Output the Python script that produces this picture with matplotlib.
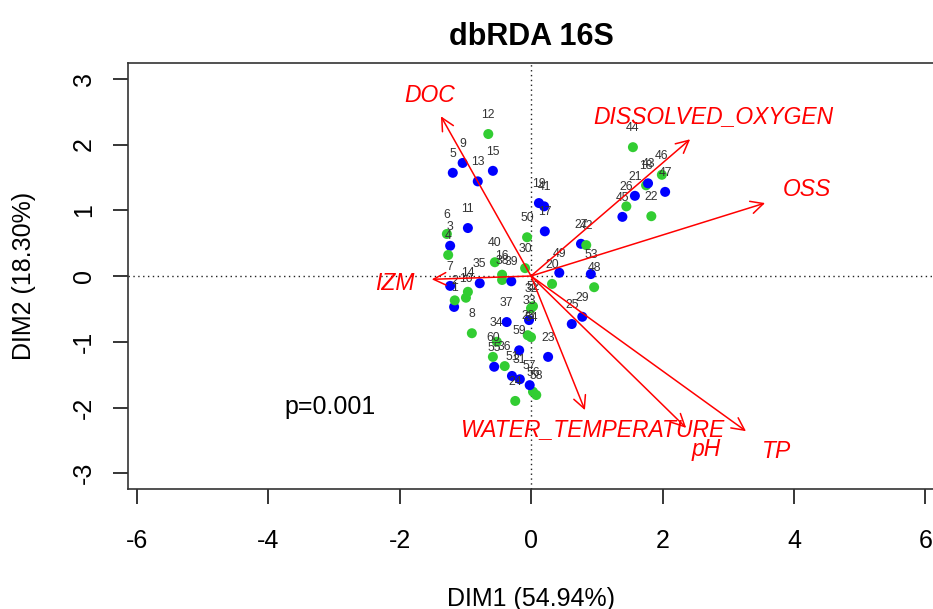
import numpy as np
import matplotlib
matplotlib.use("Agg")
import matplotlib.pyplot as plt

plt.rcParams['font.family'] = ['Liberation Sans', 'DejaVu Sans']
plt.rcParams['axes.unicode_minus'] = False

# site scores (DIM1, DIM2)
site_id = [str(i) for i in range(1, 61)]
site_group = ['A', 'B'] * 30
dim1 = [-1.17, -1.16, -1.23, -1.26, -1.19, -1.28, -1.23, -0.90, -1.04, -0.99,
        -0.96, -0.65, -0.81, -0.96, -0.58, -0.44, 0.21, 1.75, 0.12, 0.32,
        1.58, 1.83, 0.26, -0.24, 0.62, 1.45, 0.76, -0.05, 0.78, -0.09,
        -0.17, 0.00, -0.03, -0.52, -0.78, -0.40, -0.37, -0.44, -0.30, -0.55,
        0.20, 0.84, 1.78, 1.55, 1.39, 1.99, 2.04, 0.96, 0.43, -0.06,
        -0.29, 0.03, 0.91, 0.00, -0.56, 0.03, -0.02, 0.08, -0.18, -0.58]
dim2 = [-0.47, -0.37, 0.46, 0.32, 1.57, 0.64, -0.15, -0.87, 1.72, -0.33,
        0.73, 2.16, 1.44, -0.24, 1.60, 0.02, 0.68, 1.38, 1.11, -0.12,
        1.22, 0.91, -1.23, -1.90, -0.73, 1.06, 0.49, -0.90, -0.62, 0.12,
        -1.57, -0.49, -0.67, -1.00, -0.11, -1.37, -0.70, -0.06, -0.08, 0.21,
        1.06, 0.47, 1.41, 1.96, 0.90, 1.54, 1.28, -0.17, 0.05, 0.59,
        -1.52, -0.46, 0.03, -0.93, -1.38, -1.76, -1.66, -1.81, -1.13, -1.23]

# environmental vectors
env_names = ['DOC', 'DISSOLVED_OXYGEN', 'OSS', 'IZM', 'WATER_TEMPERATURE', 'pH', 'TP']
env_x = [-1.37, 2.42, 3.56, -1.51, 0.82, 2.36, 3.27]
env_y = [2.43, 2.08, 1.11, -0.05, -2.04, -2.31, -2.36]
env_lab_x = [-1.54, 2.77, 4.19, -2.07, 0.93, 2.66, 3.73]
env_lab_y = [2.74, 2.42, 1.32, -0.12, -2.33, -2.64, -2.67]

group_colors = {'A': '#0000FF', 'B': '#32CD32'}

fig = plt.figure(figsize=(9.33, 6.09), dpi=100)
ax = fig.add_axes([0.1372, 0.1970, 0.8639, 0.6995])

ax.axhline(0, color='#222222', lw=1, ls=(0, (1, 2.5)), zorder=1)
ax.axvline(0, color='#222222', lw=1, ls=(0, (1, 2.5)), zorder=1)

cols = [group_colors[g] for g in site_group]
ax.scatter(dim1, dim2, s=52, c=cols, edgecolors='none', zorder=3)
for lab, x, y in zip(site_id, dim1, dim2):
    ax.annotate(lab, (x, y), xytext=(0, 13.7), textcoords='offset points',
                ha='center', va='center', fontsize=8.8, color='#333333', zorder=4)

for name, x, y, lx, ly in zip(env_names, env_x, env_y, env_lab_x, env_lab_y):
    ax.annotate('', xy=(x, y), xytext=(0, 0),
                arrowprops=dict(arrowstyle='->,head_length=1.0,head_width=0.5',
                                mutation_scale=9, color='#FF0000', lw=1.1,
                                shrinkA=0, shrinkB=0), zorder=5)
    ax.text(lx, ly, name, color='#FF0000', style='italic', fontsize=16.5,
            ha='center', va='center', zorder=5)

ax.text(-3.05, -1.99, 'p=0.001', fontsize=18, ha='center', va='center')

ax.set_xlim(-6.13, 6.13)
ax.set_ylim(-3.24, 3.24)
ax.set_xticks([-6, -4, -2, 0, 2, 4, 6])
ax.set_yticks([-3, -2, -1, 0, 1, 2, 3])
ax.tick_params(axis='both', direction='out', length=11, width=1.1, labelsize=18)
ax.tick_params(axis='x', pad=18)
ax.tick_params(axis='y', pad=12, labelrotation=90)
for lab in ax.get_yticklabels():
    lab.set_va('center')
for sp in ax.spines.values():
    sp.set_linewidth(1.2)
    sp.set_color('#333333')

ax.set_xlabel('DIM1 (54.94%)', fontsize=18, labelpad=24)
ax.set_ylabel('DIM2 (18.30%)', fontsize=18, labelpad=26)
ax.set_title('dbRDA 16S', fontsize=22, fontweight='bold', pad=13)

fig.savefig('out.png', dpi=100)
